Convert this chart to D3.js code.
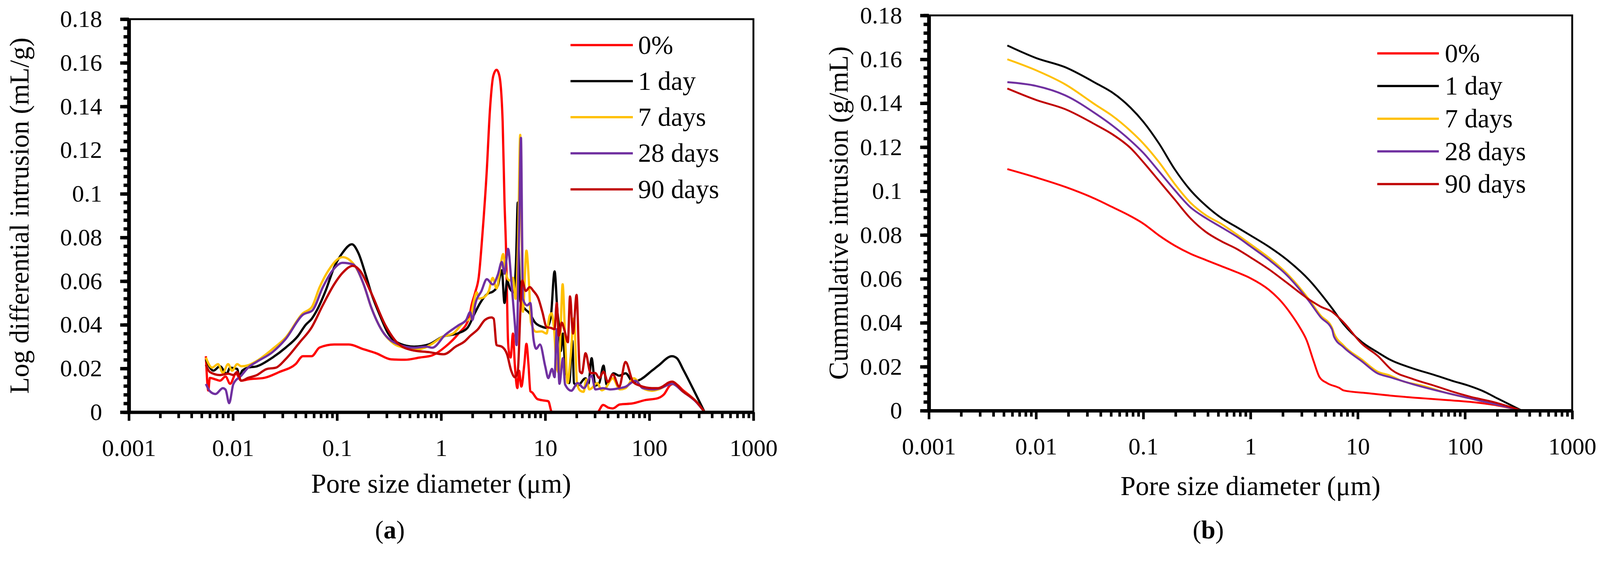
<!DOCTYPE html>
<html>
<head>
<meta charset="utf-8">
<script src="https://cdn.jsdelivr.net/npm/d3@7"></script>
<style>
  html, body { margin: 0; padding: 0; background: #fff; overflow: hidden; }
  figure { margin: 0; }
  svg { display: block; width: 100%; height: auto; }
  text { font-family: 'Liberation Serif', 'Times New Roman', serif; fill: #000; }
</style>
</head>
<body>
<figure></figure>
<script>
// series names + colours (legend order)
const seriesNames = ['0%', '1 day', '7 days', '28 days', '90 days']
const seriesColors = ['#ff0000', '#000000', '#ffc000', '#7030a0', '#c00000']

// x ticks (pore size, µm) and y ticks
const decades = [0.001, 0.01, 0.1, 1, 10, 100, 1000]
const yMajor = [0, 0.02, 0.04, 0.06, 0.08, 0.1, 0.12, 0.14, 0.16, 0.18]

// (a) log differential intrusion, [diameter µm, mL/g]
const logDiff0 = [[0.0055,0.0256],[0.0058,0.0099],[0.006,0.0157],[0.0068,0.015],[0.0075,0.0144],[0.0085,0.0163],[0.0094,0.013],[0.0107,0.0176],[0.012,0.0144],[0.014,0.015],[0.02,0.0157],[0.028,0.0184],[0.04,0.022],[0.047,0.0256],[0.057,0.0256],[0.068,0.0296],[0.094,0.031],[0.13,0.031],[0.18,0.0288],[0.24,0.0269],[0.33,0.0242],[0.45,0.024],[0.62,0.025],[0.82,0.026],[1.1,0.03],[1.47,0.036],[1.85,0.043],[1.96,0.049],[2.13,0.055],[2.3,0.062],[2.48,0.08],[2.74,0.11],[2.95,0.139],[3.17,0.154],[3.41,0.1568],[3.63,0.154],[3.9,0.133],[4.06,0.097],[4.2,0.075],[4.3,0.052],[4.38,0.034],[4.5,0.027],[4.65,0.025],[4.9,0.036],[5.1,0.022],[5.4,0.011],[5.6,0.019],[5.9,0.0117],[6.3,0.022],[6.6,0.0313],[6.9,0.022],[7.2,0.0096],[7.5,0.009],[8.4,0.006],[9.8,0.0053],[10.7,0.005],[11.6,0],[31.6,0],[36,0.0033],[40.6,0.002],[44.5,0.0017],[52,0.0035],[69,0.004],[91,0.0055],[121,0.0064],[138,0.0081],[160,0.0125],[175,0.013],[211,0.01],[280,0.005],[340,0]]
const logDiff1 = [[0.0055,0.0242],[0.0065,0.019],[0.0075,0.021],[0.0087,0.0176],[0.0094,0.0204],[0.011,0.0198],[0.0115,0.0165],[0.0123,0.019],[0.014,0.0204],[0.017,0.021],[0.024,0.025],[0.032,0.0295],[0.042,0.0348],[0.05,0.04],[0.057,0.0427],[0.064,0.0466],[0.078,0.0558],[0.094,0.0664],[0.113,0.073],[0.139,0.0769],[0.16,0.073],[0.19,0.0624],[0.213,0.0546],[0.26,0.044],[0.31,0.036],[0.4,0.0314],[0.55,0.03],[0.76,0.031],[1.03,0.0345],[1.47,0.0362],[1.79,0.0386],[2.13,0.0458],[2.37,0.05],[2.75,0.054],[3.2,0.0555],[3.51,0.058],[3.83,0.065],[4.06,0.05],[4.3,0.0603],[4.57,0.0567],[4.99,0.0549],[5.25,0.07],[5.45,0.096],[5.6,0.07],[5.78,0.0507],[6.3,0.0476],[7.1,0.0452],[8,0.041],[9.2,0.0392],[10.3,0.0386],[11.3,0.0434],[12.3,0.0645],[13.1,0.046],[13.5,0.04],[14.1,0.028],[14.8,0.036],[15.5,0.022],[17,0.0133],[18.2,0.0327],[18.9,0.0133],[20.5,0.0122],[24.4,0.0155],[26,0.013],[27.9,0.0247],[30.3,0.0122],[33,0.0133],[36.3,0.0213],[38.9,0.0127],[45.3,0.0178],[51.4,0.0167],[59.2,0.0178],[69.9,0.0138],[82.6,0.015],[106,0.019],[122,0.0213],[165,0.0256],[184,0.0247],[211,0.0196],[280,0.0081],[340,0]]
const logDiff7 = [[0.0055,0.025],[0.0063,0.0204],[0.0072,0.022],[0.008,0.018],[0.009,0.022],[0.0098,0.019],[0.011,0.022],[0.012,0.021],[0.014,0.0215],[0.017,0.0235],[0.024,0.0289],[0.032,0.0341],[0.047,0.0453],[0.057,0.048],[0.068,0.0572],[0.083,0.065],[0.113,0.071],[0.145,0.0677],[0.18,0.0586],[0.213,0.048],[0.27,0.0374],[0.35,0.0314],[0.45,0.0295],[0.62,0.0289],[0.8,0.031],[1.03,0.0345],[1.31,0.0361],[1.69,0.0416],[1.9,0.0428],[2.06,0.0507],[2.2,0.0549],[2.3,0.052],[2.55,0.0525],[2.87,0.0555],[3.13,0.0615],[3.41,0.0567],[3.72,0.067],[3.94,0.0724],[4.18,0.064],[4.5,0.0603],[4.9,0.0615],[5.2,0.0519],[5.5,0.08],[5.75,0.127],[5.95,0.08],[6.1,0.046],[6.6,0.074],[7,0.058],[7.3,0.041],[8.2,0.0368],[9.2,0.037],[10.3,0.036],[11,0.044],[11.5,0.0453],[12.2,0.037],[12.8,0.022],[13.5,0.018],[14,0.035],[14.7,0.0586],[15.5,0.035],[16.4,0.0133],[17.5,0.025],[18.9,0.043],[20.2,0.0133],[21.5,0.01],[23.4,0.0093],[24.8,0.015],[26.5,0.0104],[28,0.011],[31.5,0.0133],[35,0.01],[37.9,0.011],[44.5,0.0155],[52,0.0104],[59,0.011],[71,0.0155],[86,0.011],[106,0.0098],[122,0.0104],[165,0.013],[211,0.0095],[280,0.005],[340,0]]
const logDiff28 = [[0.0055,0.0129],[0.006,0.0096],[0.0068,0.0083],[0.008,0.011],[0.0085,0.0103],[0.0092,0.0041],[0.0101,0.0129],[0.012,0.0167],[0.014,0.0204],[0.017,0.0231],[0.024,0.0275],[0.032,0.0334],[0.047,0.0446],[0.058,0.0466],[0.073,0.0572],[0.089,0.0644],[0.113,0.0684],[0.142,0.0677],[0.18,0.0586],[0.213,0.048],[0.27,0.0374],[0.4,0.0308],[0.55,0.0295],[0.72,0.03],[0.82,0.0295],[1.1,0.0355],[1.47,0.0398],[1.74,0.0422],[1.9,0.0458],[2,0.0422],[2.13,0.0495],[2.44,0.0555],[2.75,0.0609],[3.13,0.0585],[3.51,0.063],[3.83,0.0688],[4.06,0.0634],[4.4,0.0748],[4.71,0.0609],[5.12,0.0398],[5.3,0.0307],[5.6,0.08],[5.85,0.1256],[6,0.08],[6.1,0.0519],[6.7,0.0489],[7.2,0.05],[7.7,0.0338],[8.2,0.029],[8.9,0.031],[10,0.021],[10.7,0.0156],[11.6,0.0198],[12.3,0.016],[12.9,0.038],[13.7,0.013],[14.8,0.0247],[15.5,0.0127],[17.8,0.0098],[20.5,0.0133],[23.5,0.011],[27.9,0.0167],[30.3,0.0104],[35.9,0.011],[42.4,0.0104],[52.2,0.011],[59,0.0116],[73.4,0.0144],[86.4,0.011],[108,0.0104],[128,0.011],[165,0.013],[211,0.0093],[280,0.0048],[340,0]]
const logDiff90 = [[0.0055,0.0217],[0.006,0.0184],[0.0075,0.017],[0.009,0.0176],[0.0101,0.017],[0.011,0.0184],[0.012,0.0144],[0.014,0.0157],[0.017,0.017],[0.021,0.0197],[0.026,0.0204],[0.032,0.0242],[0.044,0.0321],[0.057,0.0388],[0.073,0.049],[0.094,0.0586],[0.113,0.0638],[0.142,0.067],[0.165,0.065],[0.213,0.0546],[0.29,0.04],[0.4,0.0308],[0.55,0.0282],[0.76,0.0275],[1.06,0.0265],[1.39,0.0301],[1.69,0.0325],[1.9,0.0349],[2.26,0.038],[2.63,0.0422],[3.04,0.0434],[3.2,0.0428],[3.41,0.0307],[3.83,0.03],[4.3,0.0265],[4.71,0.019],[5.12,0.016],[5.45,0.0187],[5.78,0.047],[6,0.0603],[6.5,0.0555],[7.1,0.0573],[7.7,0.0555],[8.6,0.052],[9.4,0.0458],[10.3,0.039],[11.3,0.0386],[12.3,0.038],[12.9,0.05],[13.5,0.035],[14.4,0.041],[15.4,0.037],[16.5,0.032],[17.3,0.053],[18.5,0.036],[20,0.0537],[21.5,0.0187],[22.5,0.0178],[24.4,0.027],[27.3,0.0179],[30.3,0.0179],[33,0.0156],[36.3,0.0185],[40,0.0138],[44.6,0.0173],[51.4,0.0116],[59,0.023],[70,0.0138],[82.6,0.012],[106,0.011],[122,0.011],[165,0.014],[211,0.0095],[280,0.005],[340,0]]

// (b) cumulative intrusion, [diameter µm, g/mL]
const cum0 = [[0.0054,0.11],[0.01,0.1062],[0.0187,0.1019],[0.0366,0.0962],[0.051,0.0928],[0.076,0.0886],[0.1,0.0852],[0.14,0.0798],[0.196,0.0752],[0.274,0.0715],[0.383,0.0686],[0.536,0.0658],[0.748,0.063],[1,0.0603],[1.47,0.0552],[1.95,0.0495],[2.37,0.0442],[2.89,0.0378],[3.34,0.032],[3.88,0.0225],[4.4,0.0153],[5.2,0.0125],[6.7,0.0104],[7.4,0.0092],[12,0.008],[25.3,0.0064],[68,0.0048],[111,0.004],[181,0.0027],[340,0]]
const cum1 = [[0.0054,0.1663],[0.01,0.1606],[0.0187,0.1564],[0.0366,0.149],[0.051,0.145],[0.076,0.138],[0.1,0.1316],[0.14,0.1217],[0.196,0.11],[0.274,0.1005],[0.383,0.0934],[0.536,0.0877],[0.748,0.0835],[1,0.0798],[1.5,0.0745],[2.15,0.069],[3.52,0.0595],[5.76,0.0466],[7.37,0.0394],[10.9,0.0313],[15.4,0.0265],[19.8,0.0233],[32.3,0.0193],[53,0.0161],[74.8,0.0137],[111,0.0112],[149,0.0088],[200,0.0056],[340,0]]
const cum7 = [[0.0054,0.16],[0.01,0.155],[0.0187,0.1486],[0.0366,0.139],[0.051,0.1344],[0.076,0.1274],[0.1,0.1217],[0.14,0.1132],[0.196,0.1033],[0.274,0.0948],[0.383,0.089],[0.536,0.085],[0.748,0.0802],[1,0.0758],[1.5,0.0695],[2.15,0.0628],[3.52,0.0506],[4.5,0.0434],[5.76,0.0378],[6,0.0354],[7.37,0.0297],[10.9,0.0233],[15.4,0.0177],[19.8,0.0161],[25.3,0.0137],[41.5,0.0112],[68,0.008],[111,0.0056],[181,0.0032],[340,0]]
const cum28 = [[0.0054,0.1496],[0.01,0.1479],[0.0187,0.1436],[0.0366,0.135],[0.051,0.13],[0.076,0.123],[0.1,0.1174],[0.14,0.109],[0.196,0.1005],[0.274,0.0927],[0.383,0.0877],[0.536,0.0835],[0.748,0.0792],[1,0.0748],[1.5,0.0685],[2.15,0.062],[3.52,0.0498],[4.5,0.0426],[5.76,0.037],[6,0.0337],[7.37,0.0289],[10.9,0.0225],[15.4,0.0169],[19.8,0.0153],[32.3,0.0121],[68,0.008],[111,0.0056],[181,0.0032],[340,0]]
const cum90 = [[0.0054,0.1467],[0.01,0.1415],[0.0187,0.1373],[0.0366,0.13],[0.051,0.126],[0.076,0.1196],[0.1,0.1132],[0.14,0.1047],[0.196,0.0962],[0.274,0.0877],[0.383,0.0814],[0.536,0.0771],[0.748,0.0736],[1,0.0698],[1.5,0.0642],[2.15,0.0585],[3.52,0.0506],[4.5,0.0474],[5.76,0.045],[7.37,0.0402],[10.9,0.0305],[15.4,0.0249],[20.8,0.0185],[32.3,0.0145],[53,0.0112],[74.8,0.0088],[111,0.0064],[181,0.004],[340,0]]

const width = 4260
const height = 1469

// viewBox so the whole figure fits the viewport even if it is a few px narrower
const svg = d3.select('figure').append('svg')
  .attr('viewBox', `0 0 ${width} ${height}`)
  .attr('preserveAspectRatio', 'xMinYMin meet')

// minor log ticks 2..9 per decade
const minorX = []
decades.slice(0, -1).forEach(d => {
  for (let k = 2; k <= 9; k++) minorX.push(+(d * k).toPrecision(3))
})
const minorY = d3.range(0, 0.1801, 0.004)

const drawPanel = (p) => {
  const x = d3.scaleLog().domain([0.001, 1000]).range([p.left, p.right])
  const y = d3.scaleLinear().domain([0, 0.18]).range([p.bottom, p.top])
  const g = svg.append('g')

  // plot border (top / right)
  g.append('rect')
    .attr('x', p.left).attr('y', p.top)
    .attr('width', p.right - p.left).attr('height', p.bottom - p.top)
    .attr('fill', 'none').attr('stroke', '#000').attr('stroke-width', 5)

  // lines
  const line = d3.line()
    .x(d => x(d[0]))
    .y(d => y(d[1]))
    .curve(d3.curveMonotoneX)

  g.selectAll('path.series')
    .data(p.series)
    .join('path')
      .attr('class', 'series')
      .attr('d', d => line(d))
      .attr('fill', 'none')
      .attr('stroke', (d, i) => seriesColors[i])
      .attr('stroke-width', p.lineWidth)
      .attr('stroke-linejoin', 'round')

  // y axis, minor then major
  g.append('g')
    .attr('transform', `translate(${p.left},0)`)
    .call(d3.axisLeft(y).tickValues(minorY).tickSize(14).tickFormat(''))
    .call(a => a.select('.domain').remove())
    .call(a => a.selectAll('line').attr('stroke-width', 9))
  g.append('g')
    .attr('transform', `translate(${p.left},0)`)
    .call(d3.axisLeft(y).tickValues(yMajor).tickSize(23).tickSizeOuter(0).tickPadding(48)
      .tickFormat(d => String(+d.toFixed(2))))
    .call(a => a.select('.domain').attr('stroke-width', 10))
    .call(a => a.selectAll('line').attr('stroke-width', 9))
    .call(a => a.selectAll('text').attr('font-size', 64).attr('font-family', null))

  // x axis, minor then major
  g.append('g')
    .attr('transform', `translate(0,${p.bottom})`)
    .call(d3.axisBottom(x).tickValues(minorX).tickSize(16).tickFormat(''))
    .call(a => a.select('.domain').remove())
    .call(a => a.selectAll('line').attr('stroke-width', 7))
  g.append('g')
    .attr('transform', `translate(0,${p.bottom})`)
    .call(d3.axisBottom(x).tickValues(decades).tickSize(23).tickSizeOuter(0).tickPadding(48)
      .tickFormat(d => String(d)))
    .call(a => a.select('.domain').attr('stroke-width', 9))
    .call(a => a.selectAll('line').attr('stroke-width', 7))
    .call(a => a.selectAll('text').attr('font-size', 64).attr('font-family', null))

  // axis titles
  g.append('text')
    .attr('transform', `translate(${p.yTitleX},${(p.top + p.bottom) / 2}) rotate(-90)`)
    .attr('text-anchor', 'middle')
    .attr('font-size', 72)
    .text(p.yTitle)
  g.append('text')
    .attr('x', (p.left + p.right) / 2)
    .attr('y', p.xTitleY)
    .attr('text-anchor', 'middle')
    .attr('font-size', 72)
    .text('Pore size diameter (\u03bcm)')

  // panel tag
  const tag = g.append('text')
    .attr('x', p.tagX).attr('y', 1433)
    .attr('text-anchor', 'middle')
    .attr('font-size', 68)
  tag.append('tspan').text('(')
  tag.append('tspan').attr('font-weight', 'bold').text(p.tag)
  tag.append('tspan').text(')')

  // legend
  const leg = g.selectAll('g.legend')
    .data(seriesNames)
    .join('g')
      .attr('class', 'legend')
      .attr('transform', (d, i) => `translate(0,${p.legY + i * p.legStep})`)
  leg.append('line')
    .attr('x1', p.legX1).attr('x2', p.legX2)
    .attr('stroke', (d, i) => seriesColors[i])
    .attr('stroke-width', 6)
  leg.append('text')
    .attr('x', p.legText)
    .attr('y', 23)
    .attr('font-size', 70)
    .text(d => d)
}

drawPanel({
  left: 343, right: 2006, top: 51, bottom: 1097,
  series: [logDiff0, logDiff1, logDiff7, logDiff28, logDiff90],
  lineWidth: 6,
  yTitle: 'Log differential intrusion (mL/g)', yTitleX: 76,
  xTitleY: 1312, tag: 'a', tagX: 1038,
  legX1: 1519, legX2: 1685, legText: 1699, legY: 120, legStep: 96
})

drawPanel({
  left: 2473, right: 4186, top: 41, bottom: 1093,
  series: [cum0, cum1, cum7, cum28, cum90],
  lineWidth: 5,
  yTitle: 'Cummulative intrusion (g/mL)', yTitleX: 2257,
  xTitleY: 1318, tag: 'b', tagX: 3217,
  legX1: 3667, legX2: 3831, legText: 3847, legY: 142, legStep: 87
})
</script>
</body>
</html>
